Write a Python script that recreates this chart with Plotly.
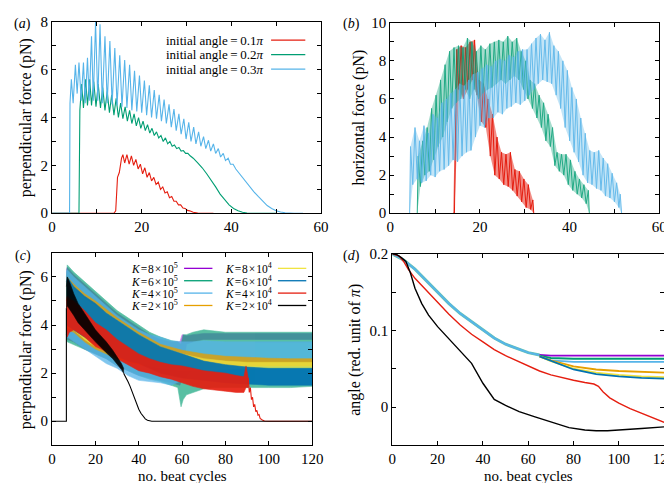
import plotly.graph_objects as go

W, H = 672, 483
FONT = "Liberation Serif, Times New Roman, serif"

C_PURPLE = "#9400d3"
C_GREEN = "#009e73"
C_LBLUE = "#56b4e9"
C_ORANGE = "#e69f00"
C_YELLOW = "#f0e442"
C_DBLUE = "#0072b2"
C_RED = "#e51e10"
C_BLACK = "#000000"

# ---------------- panel (a): perpendicular force vs cycles ----------------
a_red_x = [0, 13.8, 14.2, 14.6, 15.0, 15.5, 15.8, 16.2, 16.7, 17.2, 17.7, 18.2, 18.7, 19.2, 19.7,
           20.2, 20.7, 21.2, 21.7, 22.2, 22.7, 23.2, 23.7, 24.2, 24.7, 25.2, 25.7, 26.2, 26.7,
           27.2, 27.7, 28.2, 28.7, 29.2, 29.7, 30.2, 30.7, 31.5, 32.5, 34, 36]
a_red_y = [0, 0, 0.1, 1.5, 1.7, 2.3, 2.45, 2.1, 2.45, 2.05, 2.4, 2.0, 2.25, 1.85, 2.05,
           1.65, 1.9, 1.5, 1.7, 1.35, 1.5, 1.2, 1.3, 1.0, 1.1, 0.85, 0.9, 0.65, 0.7,
           0.5, 0.5, 0.35, 0.35, 0.22, 0.2, 0.12, 0.1, 0.04, 0.01, 0, 0]

a_green_x = [0, 6.0, 6.2, 6.6, 7.0, 7.5, 7.9, 8.4, 8.8, 9.3, 9.8, 10.3, 10.8, 11.3, 11.8, 12.3,
             12.8, 13.3, 13.8, 14.3, 14.8, 15.3, 15.8, 16.3, 16.8, 17.3, 17.8, 18.3, 18.8,
             19.3, 19.8, 20.3, 20.8, 21.3, 21.8, 22.3, 22.8, 23.3, 23.8, 24.3, 24.8, 25.3,
             25.8, 26.3, 26.8, 27.3, 27.8, 28.3, 28.8, 29.3, 29.8, 30.3, 30.8, 31.5, 32.5,
             33.5, 34.5, 35.5, 36.5, 37.5, 38.5, 39.5, 40.5, 41.5, 42.5, 43.5, 45, 50]
a_green_y = [0, 0, 4.3, 5.4, 4.4, 5.6, 4.5, 5.6, 4.5, 5.5, 4.45, 5.4, 4.4, 5.25, 4.3, 5.1,
             4.2, 4.95, 4.1, 4.8, 4.0, 4.6, 3.95, 4.45, 3.85, 4.3, 3.75, 4.15, 3.65,
             4.0, 3.55, 3.85, 3.45, 3.7, 3.35, 3.55, 3.25, 3.4, 3.15, 3.25, 3.0, 3.15,
             2.9, 3.0, 2.8, 2.85, 2.7, 2.75, 2.6, 2.62, 2.5, 2.5, 2.4, 2.3, 2.1,
             1.9, 1.65, 1.4, 1.1, 0.8, 0.55, 0.35, 0.2, 0.1, 0.04, 0.01, 0, 0]

a_blue_x = [0, 3.9, 4.0, 4.3, 4.7, 5.2, 5.6, 6.0, 6.5, 7.0, 7.4, 7.9, 8.3, 8.8, 9.2, 9.7, 10.2,
            10.7, 11.2, 11.8, 12.3, 12.9, 13.4, 14.0, 14.5, 15.1, 15.6, 16.2, 16.7, 17.3,
            17.8, 18.4, 18.9, 19.5, 20.0, 20.6, 21.1, 21.7, 22.2, 22.8, 23.3, 23.9, 24.4,
            25.0, 25.5, 26.1, 26.6, 27.2, 27.7, 28.3, 28.8, 29.4, 29.9, 30.5, 31.0, 31.6,
            32.1, 32.7, 33.2, 33.8, 34.3, 34.9, 35.4, 36.0, 36.5, 37.1, 37.6, 38.2, 38.7,
            39.3, 39.8, 40.4, 41.0, 42, 43, 44, 45, 46, 47, 48, 49, 50, 51, 52, 54, 56]
a_blue_y = [0, 0, 4.6, 5.6, 4.6, 6.2, 5.0, 6.3, 4.7, 6.3, 4.6, 6.5, 4.7, 7.4, 4.7, 8.0, 4.7,
            7.9, 4.6, 7.4, 4.6, 7.2, 4.55, 6.9, 4.5, 6.6, 4.45, 6.4, 4.4, 6.2,
            4.3, 5.95, 4.25, 5.75, 4.2, 5.55, 4.1, 5.35, 4.0, 5.15, 3.95, 4.95, 3.85,
            4.75, 3.75, 4.55, 3.6, 4.35, 3.45, 4.15, 3.3, 3.95, 3.1, 3.8, 3.0, 3.6,
            2.9, 3.4, 2.8, 3.2, 2.7, 3.05, 2.6, 2.9, 2.5, 2.7, 2.35, 2.5, 2.2,
            2.3, 2.05, 2.05, 1.85, 1.6, 1.35, 1.12, 0.9, 0.7, 0.5, 0.32, 0.2, 0.1, 0.05, 0.02, 0, 0]

# ---------------- panel (b): horizontal force vs cycles (alternating peak / trough samples) ----------------
b_red_x = [14.0, 14.3, 14.8, 15.3, 15.8, 16.3, 16.8, 17.3, 17.8, 18.3, 18.8, 19.3, 19.8, 20.3,
           20.8, 21.3, 21.8, 22.3, 22.8, 23.3, 23.8, 24.3, 24.8, 25.3, 25.8, 26.3, 26.8,
           27.3, 27.8, 28.3, 28.8, 29.3, 29.8, 30.3, 30.8, 31.3, 31.8, 32.0]
b_red_y = [0, 0, 8.6, 6.5, 8.8, 6.0, 8.7, 6.5, 9.0, 7.0, 9.1, 6.2, 7.0, 4.8,
           6.8, 4.5, 6.0, 3.0, 5.2, 2.0, 4.0, 1.8, 3.2, 1.5, 3.1, 1.4, 3.2,
           1.2, 2.3, 0.9, 2.2, 0.6, 1.8, 0.3, 1.5, 0.2, 0.7, 0]

b_green_x = [6.0, 6.2, 6.7, 7.2, 7.7, 8.2, 8.7, 9.2, 9.7, 10.2, 10.7, 11.2, 11.7, 12.2, 12.7,
             13.2, 13.7, 14.2, 14.7, 15.2, 15.7, 16.2, 16.7, 17.2, 17.7, 18.2, 18.7, 19.2,
             19.7, 20.2, 20.7, 21.2, 21.7, 22.2, 22.7, 23.2, 23.7, 24.2, 24.7, 25.2, 25.7,
             26.2, 26.7, 27.2, 27.7, 28.2, 28.7, 29.2, 29.7, 30.2, 30.7, 31.2, 31.7, 32.2,
             32.7, 33.2, 33.7, 34.2, 34.7, 35.2, 35.7, 36.2, 36.7, 37.2, 37.7, 38.2, 38.7,
             39.2, 39.7, 40.2, 40.7, 41.2, 41.7, 42.2, 42.7, 43.2, 43.7, 44.2, 44.4]
b_green_y = [0, 3.0, 1.4, 3.8, 2.0, 4.5, 2.2, 5.5, 2.8, 6.2, 3.5, 7.0, 4.0, 7.8, 4.8,
             8.5, 5.5, 8.7, 5.8, 8.8, 6.0, 8.7, 6.5, 9.2, 6.0, 9.0, 6.5, 8.5,
             6.0, 8.8, 6.3, 8.6, 6.5, 8.9, 6.6, 9.0, 6.8, 9.1, 7.0, 9.0, 6.8,
             9.3, 7.0, 9.0, 7.2, 9.2, 7.0, 8.5, 6.5, 8.0, 6.0, 7.0, 5.5, 6.8,
             5.0, 6.2, 4.5, 5.8, 3.8, 5.2, 3.5, 4.5, 2.5, 3.2, 2.2, 3.1, 2.0,
             3.1, 1.5, 2.8, 1.2, 2.2, 1.0, 1.8, 0.8, 1.5, 0.5, 1.2, 0]

b_blue_x = [4.3, 4.5, 5.0, 5.5, 6.0, 6.5, 7.0, 7.5, 8.0, 8.5, 9.0, 9.5, 10.0, 10.5, 11.0, 11.5,
            12.0, 12.5, 13.0, 13.5, 14.0, 14.5, 15.0, 15.5, 16.0, 16.5, 17.0, 17.5, 18.0,
            18.5, 19.0, 19.5, 20.0, 20.5, 21.0, 21.5, 22.0, 22.5, 23.0, 23.5, 24.0, 24.5,
            25.0, 25.5, 26.0, 26.5, 27.0, 27.5, 28.0, 28.5, 29.0, 29.5, 30.0, 30.5, 31.0,
            31.5, 32.0, 32.5, 33.0, 33.5, 34.0, 34.5, 35.0, 35.5, 36.0, 36.5, 37.0, 37.5,
            38.0, 38.5, 39.0, 39.5, 40.0, 40.5, 41.0, 41.5, 42.0, 42.5, 43.0, 43.5, 44.0,
            44.5, 45.0, 45.5, 46.0, 46.5, 47.0, 47.5, 48.0, 48.5, 49.0, 49.5, 50.0, 50.5,
            51.0, 51.3, 51.6]
b_blue_y = [0, 3.5, 1.5, 4.5, 1.8, 3.8, 1.6, 4.6, 1.7, 4.2, 2.0, 5.2, 1.9, 5.0, 2.2, 5.8,
            2.3, 6.0, 2.5, 6.3, 2.8, 6.5, 2.7, 6.8, 3.0, 6.7, 3.2, 7.0, 3.3,
            7.3, 4.0, 7.4, 4.6, 7.6, 4.5, 7.8, 5.0, 7.7, 5.0, 8.0, 5.3, 8.1,
            5.2, 8.0, 5.5, 8.3, 5.6, 8.2, 5.8, 8.5, 5.7, 8.6, 5.9, 8.6, 6.2,
            8.9, 6.5, 9.2, 6.8, 9.4, 7.0, 9.1, 6.9, 9.5, 6.8, 8.8, 6.2, 8.5,
            5.5, 8.0, 4.5, 7.5, 3.8, 6.6, 3.2, 6.0, 2.7, 5.0, 2.0, 4.2, 1.6,
            3.3, 1.5, 3.2, 1.3, 3.3, 1.2, 2.9, 0.9, 2.6, 0.8, 2.1, 0.6, 1.6,
            0.3, 1.0, 0]

# ---------------- panel (c): perpendicular force, oscillation bands (upper / lower envelope) ----------------
c_purple_x = [6.6, 7, 10, 15, 20, 25, 30, 35, 40, 45, 50, 55, 59, 60, 62, 65, 70, 80, 90, 100, 110, 120]
c_purple_hi = [6.3, 6.4, 6.1, 5.7, 5.3, 4.9, 4.5, 4.2, 3.9, 3.6, 3.4, 3.3, 3.3, 3.6, 3.55, 3.6, 3.65, 3.65, 3.65, 3.65, 3.65, 3.65]
c_purple_lo = [3.5, 3.4, 3.3, 3.0, 2.8, 2.6, 2.3, 2.1, 1.9, 1.8, 1.7, 1.6, 1.5, 1.8, 3.2, 3.3, 3.4, 3.4, 3.4, 3.4, 3.4, 3.4]

c_green_x = [6.6, 7, 10, 15, 20, 25, 30, 35, 40, 45, 50, 55, 58, 59.5, 60.5, 62, 65, 70, 75, 80, 90, 100, 110, 120]
c_green_hi = [6.0, 6.5, 6.2, 5.8, 5.4, 5.0, 4.6, 4.3, 4.0, 3.7, 3.5, 3.35, 3.3, 3.2, 3.6, 3.6, 3.7, 3.8, 3.75, 3.7, 3.7, 3.7, 3.7, 3.7]
c_green_lo = [3.4, 3.3, 3.2, 3.0, 2.8, 2.6, 2.3, 2.1, 1.9, 1.75, 1.65, 1.5, 1.4, 0.6, 0.9, 1.1, 1.2, 1.35, 1.4, 1.4, 1.4, 1.4, 1.4, 1.45]

c_lblue_x = [6.6, 7, 10, 15, 20, 25, 30, 35, 40, 45, 50, 55, 60, 65, 70, 80, 90, 100, 110, 120]
c_lblue_hi = [6.2, 6.3, 6.0, 5.6, 5.2, 4.8, 4.4, 4.1, 3.8, 3.6, 3.5, 3.35, 3.3, 3.3, 3.35, 3.3, 3.3, 3.3, 3.3, 3.3]
c_lblue_lo = [3.6, 3.5, 3.3, 3.0, 2.7, 2.4, 2.2, 1.9, 1.7, 1.65, 1.6, 1.5, 1.7, 2.2, 2.4, 2.5, 2.5, 2.5, 2.5, 2.5]

c_orange_x = [6.6, 7, 10, 15, 20, 30, 40, 50, 60, 70, 80, 90, 100, 110, 120]
c_orange_hi = [5.8, 6.0, 5.7, 5.3, 5.0, 4.3, 3.7, 3.2, 2.95, 2.8, 2.7, 2.65, 2.62, 2.6, 2.6]
c_orange_lo = [3.8, 3.8, 3.7, 3.3, 3.0, 2.6, 2.35, 2.25, 2.2, 2.2, 2.25, 2.3, 2.3, 2.3, 2.3]

c_yellow_x = [6.6, 7, 10, 15, 20, 30, 40, 50, 60, 70, 80, 90, 100, 110, 120]
c_yellow_hi = [5.6, 5.8, 5.5, 5.1, 4.8, 4.2, 3.6, 3.1, 2.8, 2.6, 2.5, 2.45, 2.45, 2.45, 2.45]
c_yellow_lo = [3.9, 3.9, 3.8, 3.4, 3.1, 2.7, 2.4, 2.2, 2.1, 2.1, 2.15, 2.2, 2.2, 2.2, 2.2]

c_dblue_x = [6.6, 7, 10, 15, 20, 25, 30, 35, 40, 45, 50, 55, 60, 70, 80, 90, 100, 110, 120]
c_dblue_hi = [5.8, 6.0, 5.6, 5.2, 4.9, 4.5, 4.2, 3.9, 3.6, 3.35, 3.1, 2.95, 2.8, 2.5, 2.35, 2.25, 2.2, 2.2, 2.2]
c_dblue_lo = [4.0, 4.0, 3.8, 3.5, 3.2, 3.0, 2.7, 2.5, 2.4, 2.2, 2.0, 1.9, 1.8, 1.7, 1.6, 1.55, 1.5, 1.5, 1.5]

c_red_x = [6.6, 7, 8, 10, 15, 20, 25, 30, 35, 40, 45, 50, 55, 60, 65, 70, 75, 80, 85, 88.5, 89.5, 90.5]
c_red_hi = [5.0, 5.2, 5.1, 5.0, 4.6, 4.1, 3.8, 3.4, 3.1, 2.8, 2.6, 2.45, 2.35, 2.3, 2.2, 2.1, 2.05, 2.0, 1.9, 1.85, 2.3, 1.8]
c_red_lo = [3.6, 3.5, 3.7, 3.8, 3.5, 3.1, 2.9, 2.6, 2.35, 2.1, 2.0, 1.85, 1.75, 1.6, 1.45, 1.35, 1.3, 1.25, 1.2, 1.2, 1.4, 1.4]
c_red_tail_x = [90.5, 91, 91.5, 92, 92.5, 93, 93.5, 94, 94.5, 95, 95.5, 96, 97, 98, 100, 120]
c_red_tail_y = [1.8, 1.2, 1.4, 0.9, 1.0, 0.6, 0.7, 0.4, 0.45, 0.25, 0.28, 0.12, 0.05, 0.01, 0, 0]

c_black_x = [6.6, 7, 8, 10, 12, 15, 18, 20, 22, 25, 28, 30, 32, 33]
c_black_hi = [5.6, 6.0, 5.8, 5.3, 4.9, 4.5, 4.1, 3.8, 3.6, 3.3, 2.95, 2.7, 2.4, 2.2]
c_black_lo = [4.7, 4.8, 4.7, 4.4, 4.1, 3.8, 3.5, 3.3, 3.1, 2.85, 2.6, 2.4, 2.15, 2.0]
c_black_head_x = [0, 6.6, 6.6]
c_black_head_y = [0, 0, 4.7]
c_black_tail_x = [33, 34, 35, 36, 37, 38, 39, 40, 41, 42, 43, 44, 46, 120]
c_black_tail_y = [2.0, 1.85, 1.65, 1.45, 1.2, 0.95, 0.7, 0.5, 0.33, 0.2, 0.1, 0.04, 0.0, 0.0]

# ---------------- panel (d): angle ----------------
d_bundle_x = [0, 5, 10, 15, 20, 25, 30, 35, 40, 45, 50, 55, 60, 65]
d_bundle_y = [0.2, 0.192, 0.18, 0.165, 0.149, 0.135, 0.122, 0.111, 0.1, 0.09, 0.082, 0.076, 0.071, 0.068]
d_purple_x = [65, 70, 80, 90, 100, 110, 120]
d_purple_y = [0.068, 0.067, 0.067, 0.067, 0.067, 0.067, 0.067]
d_green_x = [65, 70, 80, 90, 100, 110, 120]
d_green_y = [0.067, 0.064, 0.063, 0.063, 0.063, 0.063, 0.063]
d_lblue_x = [65, 70, 80, 90, 100, 110, 120]
d_lblue_y = [0.066, 0.061, 0.059, 0.059, 0.059, 0.059, 0.059]
d_orange_x = [65, 70, 80, 90, 100, 110, 120]
d_orange_y = [0.066, 0.061, 0.053, 0.049, 0.047, 0.046, 0.045]
d_yellow_x = [65, 70, 80, 90, 100, 110, 120]
d_yellow_y = [0.066, 0.06, 0.05, 0.045, 0.042, 0.040, 0.039]
d_dblue_x = [65, 70, 80, 90, 100, 110, 120]
d_dblue_y = [0.066, 0.06, 0.049, 0.043, 0.040, 0.038, 0.037]
d_red_x = [0, 3, 5, 7, 10, 15, 20, 25, 30, 35, 40, 45, 50, 55, 60, 65, 70, 75, 80, 85, 89, 91, 93, 96, 100, 105, 110, 115, 120]
d_red_y = [0.2, 0.197, 0.19, 0.18, 0.168, 0.152, 0.137, 0.121, 0.107, 0.095, 0.085, 0.075, 0.067, 0.06, 0.053,
           0.047, 0.042, 0.038, 0.035, 0.032, 0.030, 0.027, 0.02, 0.012, 0.005, -0.002, -0.008, -0.014, -0.02]
d_black_x = [0, 2, 4, 6, 8, 10, 13, 16, 20, 26, 30, 35, 40, 45, 50, 56, 63, 70, 78, 85, 90, 95, 102, 110, 120]
d_black_y = [0.2, 0.199, 0.195, 0.19, 0.175, 0.155, 0.135, 0.12, 0.105, 0.086, 0.073, 0.057, 0.031, 0.010, 0.002,
             -0.006, -0.013, -0.02, -0.027, -0.03, -0.031, -0.031, -0.030, -0.028, -0.026]

legend_a = ["initial angle\u2009=\u20090.1<i>\u03c0</i>", "initial angle\u2009=\u20090.2<i>\u03c0</i>",
            "initial angle\u2009=\u20090.3<i>\u03c0</i>"]
legend_c_left = ["<i>K</i>\u200a=\u200a8\u200a\u00d7\u200a10<sup>5</sup>", "<i>K</i>\u200a=\u200a6\u200a\u00d7\u200a10<sup>5</sup>",
                 "<i>K</i>\u200a=\u200a4\u200a\u00d7\u200a10<sup>5</sup>", "<i>K</i>\u200a=\u200a2\u200a\u00d7\u200a10<sup>5</sup>"]
legend_c_right = ["<i>K</i>\u200a=\u200a8\u200a\u00d7\u200a10<sup>4</sup>", "<i>K</i>\u200a=\u200a6\u200a\u00d7\u200a10<sup>4</sup>",
                  "<i>K</i>\u200a=\u200a4\u200a\u00d7\u200a10<sup>4</sup>", "<i>K</i>\u200a=\u200a2\u200a\u00d7\u200a10<sup>4</sup>"]

fig = go.Figure()


def line(x, y, color, xa, ya, width=1.1, opacity=1.0):
    fig.add_trace(go.Scatter(x=x, y=y, mode="lines", line=dict(color=color, width=width),
                             opacity=opacity, xaxis=xa, yaxis=ya, showlegend=False, hoverinfo="skip"))


def band(x, lo, hi, color, xa, ya, opacity=0.9):
    fig.add_trace(go.Scatter(x=list(x) + list(x)[::-1], y=list(hi) + list(lo)[::-1], mode="lines",
                             fill="toself", fillcolor=color, line=dict(color=color, width=0.6),
                             opacity=opacity, xaxis=xa, yaxis=ya, showlegend=False, hoverinfo="skip"))


def zigzag_band(x, y, color, xa, ya, opacity):
    # peaks are the odd samples, troughs the even samples of the read sequence
    pk_x, pk_y = x[1::2], y[1::2]
    tr_x, tr_y = x[0::2], y[0::2]
    fig.add_trace(go.Scatter(x=list(pk_x) + list(tr_x)[::-1], y=list(pk_y) + list(tr_y)[::-1],
                             mode="lines", fill="toself", fillcolor=color, line=dict(width=0),
                             opacity=opacity, xaxis=xa, yaxis=ya, showlegend=False, hoverinfo="skip"))


# panel a
line(a_red_x, a_red_y, C_RED, "x", "y")
line(a_green_x, a_green_y, C_GREEN, "x", "y")
line(a_blue_x, a_blue_y, C_LBLUE, "x", "y")

# panel b
zigzag_band(b_red_x, b_red_y, C_RED, "x2", "y2", 0.5)
line(b_red_x, b_red_y, C_RED, "x2", "y2", width=1.0)
zigzag_band(b_green_x, b_green_y, C_GREEN, "x2", "y2", 0.35)
line(b_green_x, b_green_y, C_GREEN, "x2", "y2", width=1.0, opacity=0.8)
zigzag_band(b_blue_x, b_blue_y, C_LBLUE, "x2", "y2", 0.35)
line(b_blue_x, b_blue_y, C_LBLUE, "x2", "y2", width=1.0, opacity=0.85)

# panel c
band(c_purple_x, c_purple_lo, c_purple_hi, C_PURPLE, "x3", "y3", 0.5)
band(c_green_x, c_green_lo, c_green_hi, C_GREEN, "x3", "y3", 0.65)
band(c_lblue_x, c_lblue_lo, c_lblue_hi, C_LBLUE, "x3", "y3", 0.75)
band(c_orange_x, c_orange_lo, c_orange_hi, C_ORANGE, "x3", "y3", 0.8)
band(c_yellow_x, c_yellow_lo, c_yellow_hi, C_YELLOW, "x3", "y3", 0.75)
band(c_dblue_x, c_dblue_lo, c_dblue_hi, C_DBLUE, "x3", "y3", 0.92)
band(c_red_x, c_red_lo, c_red_hi, C_RED, "x3", "y3", 0.92)
line(c_red_tail_x, c_red_tail_y, C_RED, "x3", "y3")
band(c_black_x, c_black_lo, c_black_hi, C_BLACK, "x3", "y3", 0.9)
line(c_black_head_x, c_black_head_y, C_BLACK, "x3", "y3")
line(c_black_tail_x, c_black_tail_y, C_BLACK, "x3", "y3")

# panel d
line(d_bundle_x, d_bundle_y, C_GREEN, "x4", "y4", width=3.0, opacity=0.6)
line(d_bundle_x, d_bundle_y, C_LBLUE, "x4", "y4", width=2.0)
for xs, ys, col in [(d_purple_x, d_purple_y, C_PURPLE), (d_green_x, d_green_y, C_GREEN),
                    (d_lblue_x, d_lblue_y, C_LBLUE), (d_orange_x, d_orange_y, C_ORANGE),
                    (d_yellow_x, d_yellow_y, C_YELLOW), (d_dblue_x, d_dblue_y, C_DBLUE)]:
    line(xs, ys, col, "x4", "y4", width=1.8)
line(d_red_x, d_red_y, C_RED, "x4", "y4", width=1.4)
line(d_black_x, d_black_y, C_BLACK, "x4", "y4", width=1.4)


def axis(dom, rng, dtick, minor=None, anchor=None, tick0=0):
    d = dict(domain=dom, range=rng, dtick=dtick, tick0=tick0, showline=True, linecolor="black",
             linewidth=1, mirror="allticks", ticks="inside", ticklen=4, tickcolor="black",
             showgrid=False, zeroline=False, anchor=anchor,
             tickfont=dict(family=FONT, size=15, color="black"))
    if minor:
        d["minor"] = dict(dtick=minor, tick0=tick0, ticks="inside", ticklen=4, tickcolor="black", showgrid=False)
    return d


def px(x):
    return x / W


def py(y):
    return 1 - y / H


fig.update_layout(
    width=W, height=H, margin=dict(l=0, r=0, t=0, b=0),
    paper_bgcolor="white", plot_bgcolor="white", showlegend=False,
    xaxis=axis([px(41), px(316)], [0, 60], 20, 10, "y"),
    yaxis=axis([py(204), py(6)], [0, 8], 2, 1, "x"),
    xaxis2=axis([px(387), px(662)], [0, 60], 20, 10, "y2"),
    yaxis2=axis([py(204), py(7)], [0, 10], 2, 1, "x2"),
    xaxis3=axis([px(41), px(307)], [0, 120], 20, None, "y3"),
    yaxis3=axis([py(444), py(245)], [-1, 7], 2, 1, "x3"),
    xaxis4=axis([px(389), px(667)], [0, 120], 20, None, "y4"),
    yaxis4=axis([py(444), py(246)], [-0.05, 0.2], 0.1, 0.05, "x4"),
)

ann = []
shapes = []


def text(x, y, s, size=15, xanchor="center", angle=0):
    ann.append(dict(x=px(x), y=py(y), xref="paper", yref="paper", text=s, showarrow=False,
                    xanchor=xanchor, yanchor="middle", textangle=angle,
                    font=dict(family=FONT, size=size, color="black")))


def seg(x0, x1, y, color, width=1.3):
    shapes.append(dict(type="line", xref="paper", yref="paper", x0=px(x0), x1=px(x1),
                       y0=py(y), y1=py(y), line=dict(color=color, width=width)))


# panel labels
text(11, 8, "(<i>a</i>)", 14)
text(347, 8, "(<i>b</i>)", 14)
text(11, 248, "(<i>c</i>)", 14)
text(347, 248, "(<i>d</i>)", 14)

# axis titles
text(14, 105, "perpendicular force (pN)", 16, angle=-90)
text(354, 105, "horizontal force (pN)", 16, angle=-90)
text(14, 345, "perpendicular force (pN)", 16, angle=-90)
text(350, 345, "angle (red. unit of <i>\u03c0</i>)", 16, angle=-90)
text(174, 476, "no. beat cycles", 15)
text(528, 476, "no. beat cycles", 15)

# legend (a)
for i, (lab, col) in enumerate(zip(legend_a, [C_RED, C_GREEN, C_LBLUE])):
    y = 25 + 15 * i
    text(260, y, lab, 13, xanchor="right")
    seg(265, 300, y, col)

# legend (c)
for i, (lab, col) in enumerate(zip(legend_c_left, [C_PURPLE, C_GREEN, C_LBLUE, C_ORANGE])):
    y = 261 + 12.8 * i
    text(172, y, lab, 11.5, xanchor="right")
    seg(176, 205, y, col)
for i, (lab, col) in enumerate(zip(legend_c_right, [C_YELLOW, C_DBLUE, C_RED, C_BLACK])):
    y = 261 + 12.8 * i
    text(268, y, lab, 11.5, xanchor="right")
    seg(272, 301, y, col)

fig.update_layout(annotations=ann, shapes=shapes)
fig.write_html("out.html")
